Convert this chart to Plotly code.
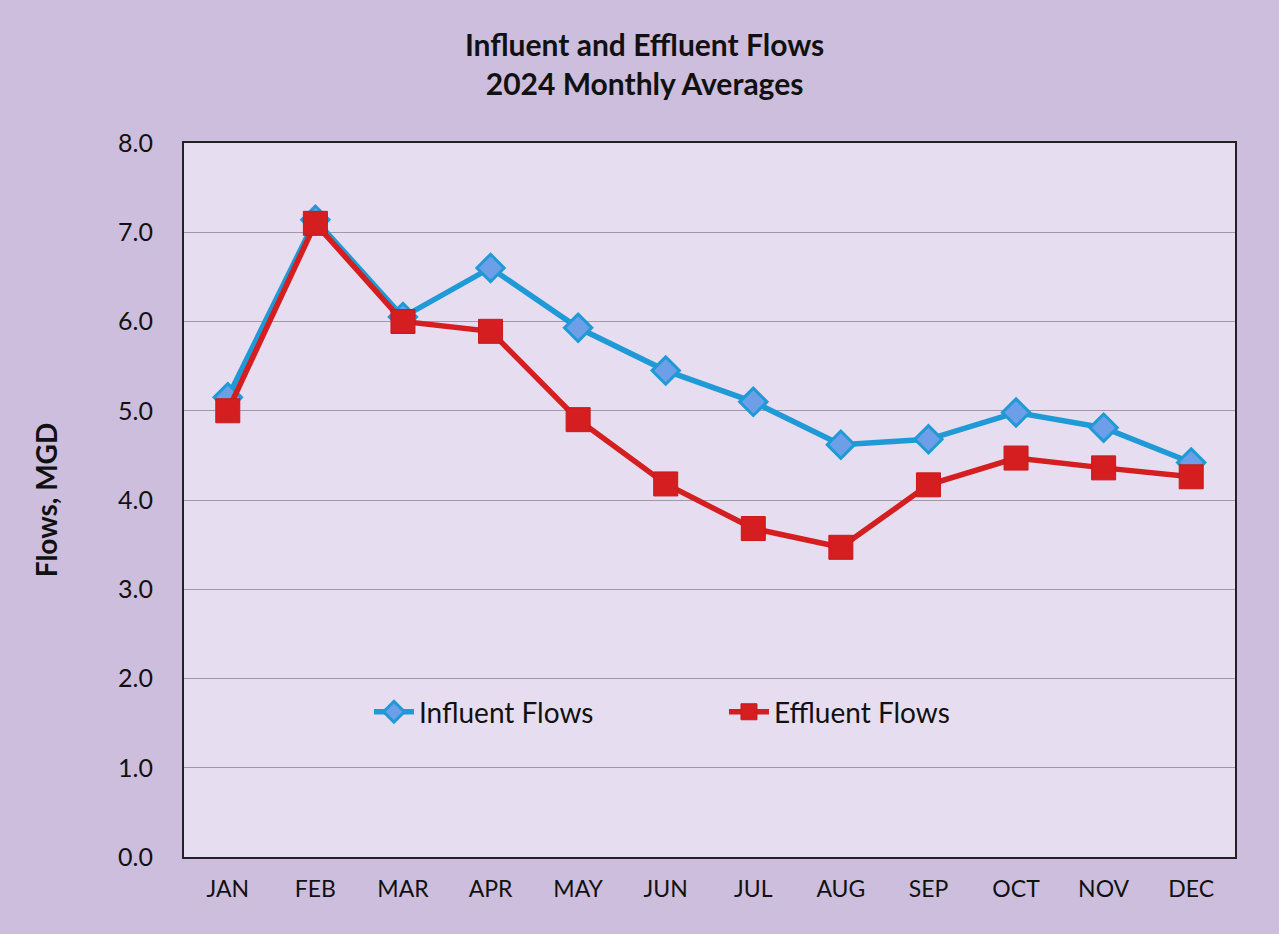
import plotly.graph_objects as go

months = ["JAN", "FEB", "MAR", "APR", "MAY", "JUN", "JUL", "AUG", "SEP", "OCT", "NOV", "DEC"]
influent = [5.15, 7.14, 6.05, 6.6, 5.93, 5.45, 5.1, 4.62, 4.68, 4.98, 4.81, 4.42]
effluent = [5.0, 7.1, 6.0, 5.89, 4.9, 4.18, 3.68, 3.47, 4.17, 4.47, 4.36, 4.26]
y_ticks = [0, 1, 2, 3, 4, 5, 6, 7, 8]

font = "Lato, 'Open Sans', sans-serif"
blue = "#1f9ad6"
red = "#d41e1f"

fig = go.Figure()
fig.add_trace(
    go.Scatter(
        x=months,
        y=influent,
        name="Influent Flows",
        mode="lines+markers",
        line=dict(color=blue, width=5.5),
        marker=dict(symbol="diamond", size=21, color="#6d9ee8", line=dict(color=blue, width=3)),
    )
)
fig.add_trace(
    go.Scatter(
        x=months,
        y=effluent,
        name="Effluent Flows",
        mode="lines+markers",
        line=dict(color=red, width=5.5),
        marker=dict(symbol="square", size=24, color=red, line=dict(color="#c81a1c", width=1)),
    )
)

fig.update_layout(
    width=1279,
    height=934,
    paper_bgcolor="#cdbedd",
    plot_bgcolor="#e7ddf0",
    margin={"l": 184, "r": 44, "t": 143, "b": 77},
    font={"family": font, "color": "#111111"},
    title=dict(
        text="<b>Influent and Effluent Flows</b><br><b>2024 Monthly Averages</b>",
        x=0.504,
        xanchor="center",
        y=0.94,
        yanchor="top",
        font=dict(size=30, family=font, color="#111111"),
    ),
    legend=dict(
        orientation="h",
        x=0.176,
        y=0.203,
        xanchor="left",
        yanchor="middle",
        bgcolor="rgba(0,0,0,0)",
        font=dict(size=28, family=font, color="#111111"),
        itemwidth=40,
        entrywidth=300,
    ),
    showlegend=True,
)
fig.update_xaxes(
    type="category",
    range=[-0.5, 11.5],
    showline=True,
    linecolor="#222222",
    linewidth=2,
    mirror=True,
    showgrid=False,
    ticks="",
    tickfont=dict(size=23, family=font),
    ticklabelstandoff=10,
)
fig.update_yaxes(
    range=[0, 8],
    tickvals=y_ticks,
    tickformat=".1f",
    showline=True,
    linecolor="#222222",
    linewidth=2,
    mirror=True,
    gridcolor="#9f99a6",
    gridwidth=1,
    zeroline=False,
    tickfont=dict(size=25, family=font),
    ticklabelstandoff=24,
    title=dict(text="<b>Flows, MGD</b>", font=dict(size=28, family=font), standoff=52),
)

fig.write_html(
    "out.html",
    config={"displayModeBar": False},
    post_script="document.body.style.margin='0';",
)
